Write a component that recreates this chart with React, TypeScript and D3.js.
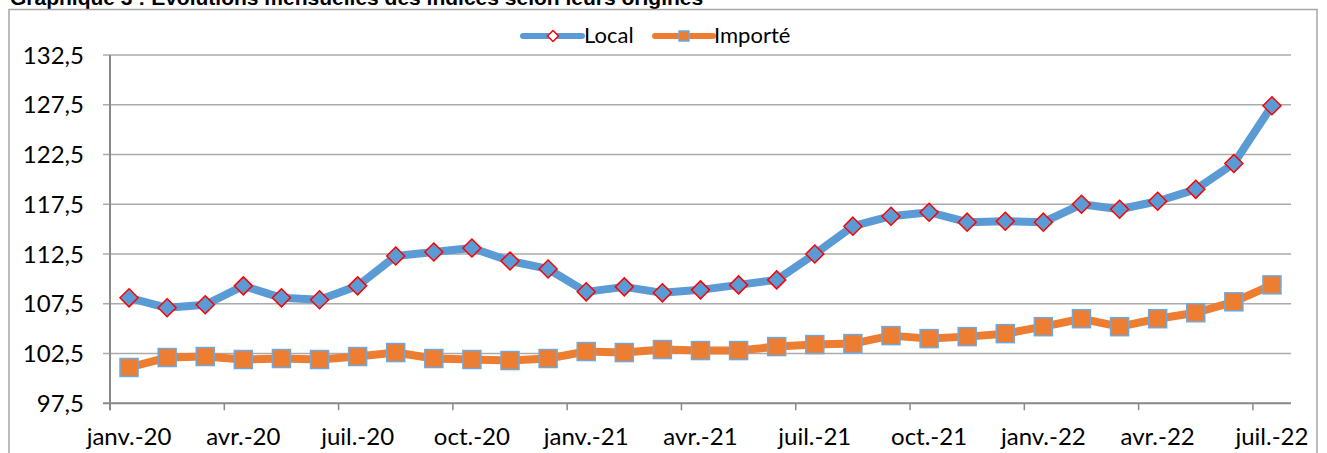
import * as d3 from 'd3'

const months = [
  'janv.-20', 'févr.-20', 'mars-20', 'avr.-20', 'mai-20', 'juin-20', 'juil.-20', 'août-20', 'sept.-20', 'oct.-20', 'nov.-20', 'déc.-20',
  'janv.-21', 'févr.-21', 'mars-21', 'avr.-21', 'mai-21', 'juin-21', 'juil.-21', 'août-21', 'sept.-21', 'oct.-21', 'nov.-21', 'déc.-21',
  'janv.-22', 'févr.-22', 'mars-22', 'avr.-22', 'mai-22', 'juin-22', 'juil.-22',
]

const localValues = [
  108.1, 107.1, 107.4, 109.3, 108.1, 107.9, 109.3, 112.3, 112.7, 113.1, 111.8, 111.0,
  108.7, 109.2, 108.6, 108.9, 109.4, 109.9, 112.5, 115.3, 116.3, 116.7, 115.7, 115.8,
  115.7, 117.5, 117.0, 117.8, 119.0, 121.6, 127.4,
]

const importedValues = [
  101.1, 102.1, 102.2, 101.9, 102.0, 101.9, 102.2, 102.6, 102.0, 101.9, 101.8, 102.0,
  102.7, 102.6, 102.9, 102.8, 102.8, 103.2, 103.4, 103.5, 104.3, 104.0, 104.2, 104.5,
  105.2, 106.0, 105.2, 106.0, 106.6, 107.7, 109.4,
]

// every third month gets a tick and a label
const xTickLabels = ['janv.-20', 'avr.-20', 'juil.-20', 'oct.-20', 'janv.-21', 'avr.-21', 'juil.-21', 'oct.-21', 'janv.-22', 'avr.-22', 'juil.-22']
const yTicks = [97.5, 102.5, 107.5, 112.5, 117.5, 122.5, 127.5, 132.5]

const W = 1327
const H = 453
const BLUE = '#5B9BD5'
const ORANGE = '#ED7D31'
const GRID = '#ABABAB'
const AXIS = '#898989'
const FONT = 'Lato, "Open Sans", sans-serif'

export default function App() {
  const x = d3.scaleLinear().domain([0, months.length]).range([110, 1291])
  const y = d3.scaleLinear().domain([97.5, 132.5]).range([403.3, 55])
  const px = (i: number) => x(i + 0.5)

  const line = d3.line<number>()
    .x((_d, i) => px(i))
    .y(d => y(d))

  const diamond = (cx: number, cy: number, r: number) =>
    `M${cx},${cy - r}L${cx + r},${cy}L${cx},${cy + r}L${cx - r},${cy}Z`

  const fmt = (v: number) => v.toFixed(1).replace('.', ',')

  return (
    <svg width={W} height={H} style={{ position: 'absolute', left: 0, top: 0, background: '#fff' }}>
      <text x={10} y={5} fontFamily='"Liberation Sans", Arial, sans-serif' fontWeight="bold" fontSize={21} fill="#000">
        Graphique 3 : Evolutions mensuelles des indices selon leurs origines
      </text>
      <rect x={9} y={9.5} width={1308} height={470} fill="none" stroke="#A6A6A6" strokeWidth={1.5} />

      {/* gridlines and y axis labels */}
      {yTicks.map(t => (
        <g key={t}>
          <line x1={103} x2={x(months.length)} y1={y(t)} y2={y(t)} stroke={t === 97.5 ? AXIS : GRID} strokeWidth={t === 97.5 ? 2 : 1.5} />
          <text x={84} y={y(t)} dy="0.36em" textAnchor="end" fontFamily={FONT} fontSize={24} fill="#000">{fmt(t)}</text>
        </g>
      ))}
      <line x1={x(0)} x2={x(0)} y1={y(132.5)} y2={y(97.5) + 7} stroke={AXIS} strokeWidth={2} />

      {/* x ticks and labels */}
      {xTickLabels.map((lab, k) => {
        const i = k * 3
        return (
          <g key={lab}>
            <line x1={x(i)} x2={x(i)} y1={y(97.5)} y2={y(97.5) + 7} stroke={AXIS} strokeWidth={1.5} />
            <text x={px(i)} y={445} textAnchor="middle" fontFamily={FONT} fontSize={24} fill="#000">{lab}</text>
          </g>
        )
      })}

      {/* series */}
      <path d={line(localValues) ?? ''} fill="none" stroke={BLUE} strokeWidth={8} strokeLinejoin="round" />
      <path d={line(importedValues) ?? ''} fill="none" stroke={ORANGE} strokeWidth={8} strokeLinejoin="round" />
      {localValues.map((v, i) => (
        <path key={'l' + i} d={diamond(px(i), y(v), 9)} fill={BLUE} stroke="#FF0000" strokeWidth={1.5} />
      ))}
      {importedValues.map((v, i) => (
        <rect key={'m' + i} x={px(i) - 9} y={y(v) - 9} width={18} height={18} fill={ORANGE} stroke="#6FA8DC" strokeWidth={1.5} />
      ))}

      {/* legend */}
      <g>
        <line x1={523} x2={582} y1={36} y2={36} stroke={BLUE} strokeWidth={6} strokeLinecap="round" />
        <path d={diamond(553, 36, 5.5)} fill="#fff" stroke="#FF0000" strokeWidth={1.5} />
        <text x={584} y={43} fontFamily={FONT} fontSize={22} fill="#000">Local</text>
        <line x1={655} x2={713} y1={36} y2={36} stroke={ORANGE} strokeWidth={6} strokeLinecap="round" />
        <rect x={679} y={31} width={10} height={10} fill={ORANGE} stroke="#6FA8DC" strokeWidth={1.5} />
        <text x={714} y={43} fontFamily={FONT} fontSize={22} fill="#000">Importé</text>
      </g>
    </svg>
  )
}
